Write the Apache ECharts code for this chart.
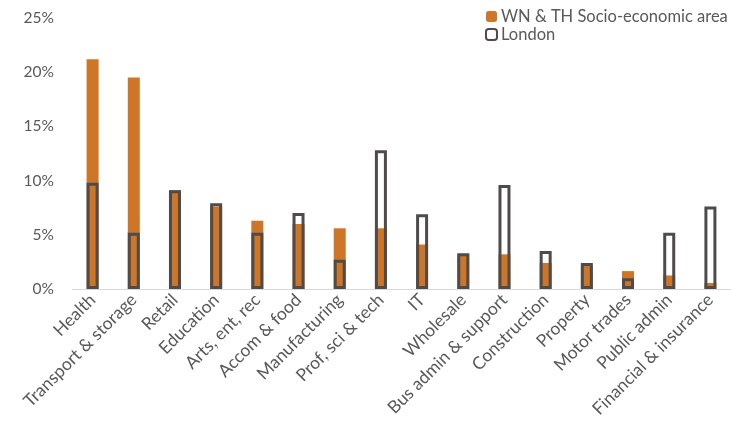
<!DOCTYPE html>
<html>
<head>
<meta charset="utf-8">
<script src="https://cdn.jsdelivr.net/npm/echarts@6/dist/echarts.min.js"></script>
<style>
  html, body { margin: 0; padding: 0; background: #fff; }
  #chart { width: 731px; height: 428px; }
</style>
</head>
<body>
<div id="chart"></div>
<script>
// sectors, ordered as in the source chart
var categories = ['Health', 'Transport & storage', 'Retail', 'Education', 'Arts, ent, rec',
    'Accom & food', 'Manufacturing', 'Prof, sci & tech', 'IT', 'Wholesale',
    'Bus admin & support', 'Construction', 'Property', 'Motor trades', 'Public admin',
    'Financial & insurance'];
// share of employment, %
var areaValues = [21.2, 19.5, 9.1, 7.6, 6.3, 6.0, 5.6, 5.6, 4.1, 3.2, 3.2, 2.4, 2.15, 1.65, 1.25, 0.55];
var londonValues = [9.8, 5.2, 9.1, 7.9, 5.2, 7.0, 2.7, 12.8, 6.9, 3.3, 9.6, 3.5, 2.4, 1.0, 5.2, 7.6];
var yTicks = [0, 5, 10, 15, 20, 25];

var chart = echarts.init(document.getElementById('chart'));
var textColor = '#595959';
var fontFamily = 'Lato, "Open Sans", sans-serif';

chart.setOption({
    animation: false,
    textStyle: { fontFamily: fontFamily },
    legend: {
        orient: 'vertical',
        left: 480,
        top: 3,
        itemWidth: 11,
        itemHeight: 11,
        itemGap: 1,
        textStyle: { color: textColor, fontSize: 16.5, fontFamily: fontFamily, padding: [0, 0, 0, -1] },
        data: ['WN & TH Socio-economic area', 'London']
    },
    grid: { left: 72, right: -2, top: 18, bottom: 139 },
    xAxis: {
        type: 'category',
        data: categories,
        axisLine: { lineStyle: { color: '#d9d9d9', width: 1 } },
        axisTick: { show: false },
        axisLabel: {
            interval: 0,
            rotate: 45,
            color: textColor,
            fontSize: 17.5,
            margin: 8,
            fontFamily: fontFamily
        }
    },
    yAxis: {
        type: 'value',
        min: yTicks[0],
        max: yTicks[yTicks.length - 1],
        interval: 5,
        splitLine: { show: false },
        axisLine: { show: false },
        axisTick: { show: false },
        axisLabel: {
            color: textColor,
            fontSize: 15.5,
            margin: 18,
            fontFamily: fontFamily,
            formatter: '{value}%'
        }
    },
    series: [
        {
            name: 'WN & TH Socio-economic area',
            type: 'bar',
            data: areaValues,
            barWidth: 12,
            barGap: '-100%',
            itemStyle: { color: '#cd7628' }
        },
        {
            name: 'London',
            type: 'bar',
            data: londonValues,
            barWidth: 12,
            barGap: '-100%',
            itemStyle: { color: 'rgba(255,255,255,0)', borderColor: '#4f4b4a', borderWidth: 3 }
        }
    ]
});
</script>
</body>
</html>
